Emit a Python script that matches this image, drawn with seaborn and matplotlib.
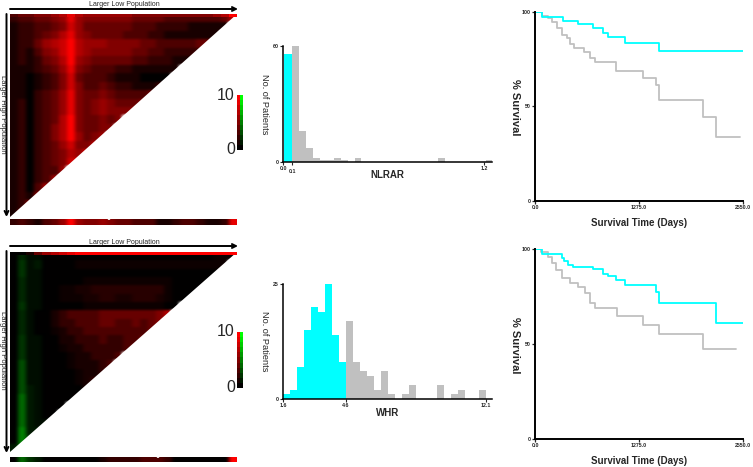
import numpy as np
import pandas as pd
import matplotlib.pyplot as plt
import seaborn as sns
from matplotlib.colors import LinearSegmentedColormap
from matplotlib.patches import Polygon

# Heat map rows (chi-square, green = negative), one list per row, triangular
heat_top = [
    [2,3,3,4,4,5,6,9,6,5,5,5,5,5,5,4,4,4,4,3,3,3,3,3,3,3,4,7],
    [1,2,2,3,3,4,5,8,6,4,4,4,4,4,4,3,3,3,2,2,2,2,1,1,1,1,1],
    [1,2,2,3,4,5,7,9,6,5,4,4,4,4,3,3,3,2,2,1,1,1,1,1,1,1],
    [1,2,2,4,6,7,8,10,7,6,6,6,5,5,5,5,4,4,3,3,3,3,3,4,4],
    [1,2,1,3,5,6,8,10,7,6,5,5,5,5,5,4,4,3,3,2,2,2,2,2],
    [1,2,1,2,4,5,7,10,6,5,4,4,4,4,4,3,3,2,2,2,1,1,1],
    [1,1,1,2,3,4,6,9,5,4,3,3,3,2,2,1,1,1,1,1,1],
    [1,1,0,1,2,3,5,8,4,3,3,3,2,1,1,1,0,0,0,0],
    [1,1,0,1,2,3,5,8,5,3,3,4,3,2,2,1,1,1,2],
    [1,1,0,2,3,4,6,9,5,4,4,5,4,3,3,3,3,4],
    [1,2,0,2,3,4,6,9,5,4,5,6,5,4,4,4,5],
    [1,2,0,2,3,4,6,9,5,4,5,6,5,5,5,6],
    [1,2,0,2,3,4,7,10,5,4,4,5,4,5],
    [1,2,0,2,3,5,7,10,5,4,4,5,5],
    [1,2,0,2,3,5,7,10,6,4,5,6],
    [1,2,0,2,3,4,6,8,5,5,7],
    [1,2,0,2,3,4,5,7,6,8],
    [1,2,0,2,3,4,5,8,9],
    [1,2,0,2,3,3,6],
    [1,2,0,2,3,6],
    [1,2,0,3,6],
    [1,2,1,5],
    [1,2,5],
    [1,4],
]
heat_bottom = [
    [0,-1.5,-0.5,-0.5,0,0,0,0,0,0,0,0,0,0,0,0,0,0,0,0,0,0,0,0,0,0.5,0.5,0.5],
    [0,-2,-0.5,-1,0,0,0,0,0.5,0.5,0.5,0.5,0.5,0.5,0.5,0.5,0.5,0.5,0.5,0.5,0.5,0.5,0.5,0.5,0.5,0.5,0.5],
    [0,-2,-0.5,-0.5,0,0,0,0,0,0,0,0,0,0,0,0,0,0,0,0,0,0,0,0,0,0],
    [0,-1.5,-0.5,-0.5,0,0,0,0,0,0.5,0.5,0.5,0.5,0.5,0.5,0.5,0.5,0.5,0.5,0.5,0,0,0,0,0],
    [0,-1.5,-0.5,-0.5,0,0,0.5,0.5,1,1,1.5,1.5,1.5,1.5,1.5,1.5,1.5,1.5,1.5,0.5,0,0,0,0],
    [0,-1.5,-0.5,-0.5,0,0,0.5,0.5,0.5,1,1,1.5,1.5,1,1,1.5,1.5,1.5,1,0.5,0,0,0],
    [0,-2,-0.5,-0.5,0,0,0,0,0,0.5,0.5,0.5,0.5,0.5,0.5,0.5,0.5,0.5,0.5,0,0],
    [0,-1.5,-0.5,0,0,1,2,3,3,3,3,4,4,4,4,4,4,4,5,7],
    [0,-1.5,-0.5,0,0,1,2,2,3,3,3,4,4,3,3,4,3,4,5],
    [0,-1.5,-0.5,0,0,0.5,1,2,2,3,3,3,3,3,3,3,3,4],
    [0,-2,-0.5,-0.5,0,0,1,1,2,2,2,3,2,2,3,3,4],
    [0,-2,-0.5,-0.5,0,0,0.5,1,1,2,2,2,2,2,3,4],
    [0,-2,-0.5,-0.5,0,0,0,0.5,1,1,2,2,2,3],
    [0,-3,-0.5,-0.5,0,0,0,0.5,1,1,1,2,3],
    [0,-3,-0.5,-0.5,0,0,0,0,0.5,1,1,2],
    [0,-3,-0.5,-0.5,0,0,0,0,0.5,1,2],
    [0,-3,-1,-0.5,0,0,0,0,0,1],
    [0,-4,-1,-0.5,0,0,0,0,1],
    [0,-4,-1,-0.5,0,0,0],
    [0,-4,-1,-0.5,0,0],
    [0,-4,-1,-0.5,-0.5],
    [0,-5,-1,-1],
    [0,-5,-2],
    [-1,-4],
]
top_line_top = [3,4,4,5,5,6,7,9,7,6,6,6,6,6,6,5,5,5,5,5,5,5,5,5,5,6,7,10]
top_line_bottom = [0,0,1,4,6,7,8,9,10,10,10,10,10,10,10,10,10,10,10,10,10,10,10,10,10,10,10,10]
strip_top = [2,3,2,1,3,4,6,10,6,5,5,6,5,4,4,3,3,3,1,1,2,3,3,2,1,1,2,9]
strip_bottom = [0,-4,-2,-1,0,0,0,0,0,0,0,1,2,2,2,2,3,3,3,2,0,0,0,0,0,0,0,10]
scale_red = [10,9,8,7,6,5,4,3,2,1,0]
scale_green = [-10,-9,-8,-7,-6,-5,-4,-3,-2,-1,0]

# Histogram counts per bin
nlrar_low = [56]
nlrar_high = [60,16,7,2,1,1,2,1,0,2,0,0,0,0,0,0,0,0,0,0,0,2,0,0,0,0,0,0,1]
whr_low = [1,2,7,15,20,19,25,14,8]
whr_high = [17,8,6,5,2,6,1,0,1,3,0,0,0,3,0,1,2,0,0,2]

# Survival steps
km1_hi_days = [0,86,339,527,711,834,891,1099,1516,2550]
km1_hi_surv = [100,97.4,95.3,93.5,91.4,89,86.8,83.8,79.4,79.4]
km1_lo_days = [0,86,159,208,270,331,392,425,474,605,678,736,997,1320,1488,1524,2056,2219,2509]
km1_lo_surv = [100,97.9,97,94.7,91.7,88,86,83.3,81.2,78.9,75.9,73.8,68.7,64.9,61.3,53.6,44.6,33.6,33.6]
km2_hi_days = [0,86,327,351,409,466,711,834,891,989,1099,1483,1520,2223,2550]
km2_hi_surv = [100,97.4,95.2,93.8,91.7,90.5,89.3,87,85.6,83.5,81,77.6,71.5,61.1,61.1]
km2_lo_days = [0,74,159,208,262,327,425,527,613,670,736,1001,1320,1524,2056,2464]
km2_lo_surv = [100,98.4,96,92.6,89,84.7,82.2,79.9,76.8,71.5,68.7,65,60.2,55.3,47.5,47.5]

W, H = 753, 467
CYAN = '#00FFFF'
GREY = '#C0C0C0'

sns.set_theme(style="white")
plt.rcParams['font.family'] = ['Liberation Sans', 'DejaVu Sans']

fig = plt.figure(figsize=(W / 100, H / 100), dpi=100)
rg = LinearSegmentedColormap.from_list("rg", ['#00FF00', '#000000', '#FF0000'])


def px_axes(x0, y0, x1, y1):
    return fig.add_axes([x0 / W, 1 - y1 / H, (x1 - x0) / W, (y1 - y0) / H])


def soften(image, dpi):
    # the reference heat maps are blurry, so blur the drawn cells a little
    out = image.copy()
    for axis, size in ((1, 9), (0, 5)):
        kernel = np.hanning(size + 2)[1:-1]
        kernel = kernel / kernel.sum()
        pad = [(0, 0)] * 3
        pad[axis] = (size // 2, size // 2)
        padded = np.pad(out, pad, mode='edge')
        out = np.apply_along_axis(np.convolve, axis, padded, kernel, mode='valid')
    return out, 0, 0


def heat(box, values):
    ax = px_axes(*box)
    sns.heatmap(values, ax=ax, cmap=rg, vmin=-10, vmax=10, cbar=False,
                xticklabels=False, yticklabels=False)
    return ax


def triangle(box, rows, top_line, strip_box, strip, star_x):
    ncol = len(rows[0])
    nrow = len(rows)
    table = pd.DataFrame(rows, columns=range(ncol)).astype(float)
    ax = heat(box, table)
    ax.collections[0].set_agg_filter(soften)
    ax.add_patch(Polygon([(ncol, 0), (ncol, nrow), (0, nrow)], facecolor='white',
                         edgecolor='none', zorder=5))
    heat((box[0], box[1], box[2], box[1] + 3), [top_line])
    strip_ax = heat(strip_box, [strip])
    strip_ax.collections[0].set_agg_filter(soften)
    fig.text(star_x / W, 1 - (strip_box[1] + 0.5) / H, "•", color='white',
             fontsize=8, ha='center', va='center')


def arrows(x0, x1, y0, y1):
    style = dict(arrowstyle='->', color='black', lw=1.4, mutation_scale=7,
                 shrinkA=0, shrinkB=0)
    fig.add_artist(plt.Annotation("", xy=(x1 / W, 1 - (y0 - 5) / H),
                                  xytext=(x0 / W, 1 - (y0 - 5) / H),
                                  xycoords='figure fraction', arrowprops=style))
    fig.add_artist(plt.Annotation("", xy=(6.5 / W, 1 - y1 / H),
                                  xytext=(6.5 / W, 1 - y0 / H),
                                  xycoords='figure fraction', arrowprops=style))


def scale_bar(y0, y1):
    heat((237, y0, 243, y1), np.column_stack([scale_red, scale_green]))
    for label, y in (("10", y0), ("0", y1)):
        fig.text(235 / W, 1 - y / H, label, fontsize=11.5, ha='right', va='center')


def hist(box, low, high, low_edges, high_edges, xlim, ymax, ticks, tick_labels, name, drop_tick=None, label_pad=-3):
    ax = px_axes(*box)
    sns.histplot(x=low_edges[:-1], weights=low, bins=low_edges, color=CYAN,
                 alpha=1, linewidth=0, ax=ax)
    sns.histplot(x=high_edges[:-1], weights=high, bins=high_edges, color=GREY,
                 alpha=1, linewidth=0, ax=ax)
    ax.set_xlim(0, xlim)
    ax.set_ylim(0, ymax)
    ax.set_xticks(ticks, tick_labels)
    ax.set_yticks([0, ymax], [0, ymax])
    ax.tick_params(length=2, width=0.8, labelsize=3.8, pad=1, bottom=True, left=True)
    if drop_tick is not None:
        ax.xaxis.get_major_ticks()[drop_tick].tick1line.set_markersize(4)
        ax.xaxis.get_major_ticks()[drop_tick].set_pad(3)
    for lab in ax.get_xticklabels() + ax.get_yticklabels():
        lab.set_fontweight('bold')
    sns.despine(ax=ax)
    for side in ('left', 'bottom'):
        ax.spines[side].set_linewidth(1.1)
        ax.spines[side].set_color('black')
    ax.set_ylabel("")
    ax.set_xlabel(name, fontsize=7, fontweight='bold', labelpad=label_pad)
    fig.text(264 / W, 1 - (box[1] + box[3]) / 2 / H, "No. of Patients", fontsize=6.6,
             rotation=-90, ha='center', va='center')


def survival(box, hi_days, hi_surv, lo_days, lo_surv):
    ax = px_axes(*box)
    sns.lineplot(x=lo_days, y=lo_surv, drawstyle='steps-post', color=GREY, lw=1.3, ax=ax)
    sns.lineplot(x=hi_days, y=hi_surv, drawstyle='steps-post', color=CYAN, lw=1.3, ax=ax)
    ax.set_xlim(0, 2550)
    ax.set_ylim(0, 100)
    ax.set_xticks([0, 1275, 2550], ["0.0", "1275.0", "2550.0"])
    ax.set_yticks([0, 50, 100], [0, 50, 100])
    ax.tick_params(length=2, width=0.9, labelsize=3.8, pad=1, bottom=True, left=True)
    for lab in ax.get_xticklabels() + ax.get_yticklabels():
        lab.set_fontweight('bold')
    sns.despine(ax=ax)
    for side in ('left', 'bottom'):
        ax.spines[side].set_linewidth(1.4)
        ax.spines[side].set_color('black')
    ax.set_xlabel("Survival Time (Days)", fontsize=7, fontweight='bold', labelpad=6)
    fig.text(515 / W, 1 - ((box[1] + box[3]) / 2 + 1) / H, "% Survival", fontsize=8,
             fontweight='bold', rotation=-90, ha='center', va='center')


# Upper row
triangle((10, 14, 237, 217), heat_top, top_line_top, (10, 219, 237, 225), strip_top, 108)
arrows(10, 238, 14, 217)
fig.text(124 / W, 1 - 4.5 / H, "Larger Low Population", fontsize=5, ha='center', va='center')
fig.text(2.5 / W, 1 - 114 / H, "Larger High Population", fontsize=5.5, rotation=-90,
         ha='center', va='center')
scale_bar(95, 150)
edges_low = [0.2, 1.3]
edges_high = [1.3 + i for i in range(len(nlrar_high) + 1)]
hist((283, 46, 492, 162), nlrar_low, nlrar_high, edges_low, edges_high, 30.1, 60,
     [0, 1.3, 29], ["0.0", "0.1", "1.2"], "NLRAR", drop_tick=1)
survival((535, 12, 743, 201), km1_hi_days, km1_hi_surv, km1_lo_days, km1_lo_surv)

# Lower row
triangle((10, 252, 237, 452), heat_bottom, top_line_bottom, (10, 457, 237, 462), strip_bottom, 157)
arrows(10, 238, 251, 453)
fig.text(124 / W, 1 - 242 / H, "Larger Low Population", fontsize=5, ha='center', va='center')
fig.text(2.5 / W, 1 - 350 / H, "Larger High Population", fontsize=5.5, rotation=-90,
         ha='center', va='center')
scale_bar(332, 388)
edges_low = list(range(len(whr_low) + 1))
edges_high = [len(whr_low) + i for i in range(len(whr_high) + 1)]
hist((283, 284, 492, 399), whr_low, whr_high, edges_low, edges_high, 29.9, 25,
     [0, 9, 29], ["1.6", "4.6", "12.1"], "WHR", label_pad=0)
survival((535, 249, 743, 439), km2_hi_days, km2_hi_surv, km2_lo_days, km2_lo_surv)

plt.savefig("out.png", dpi=100)
